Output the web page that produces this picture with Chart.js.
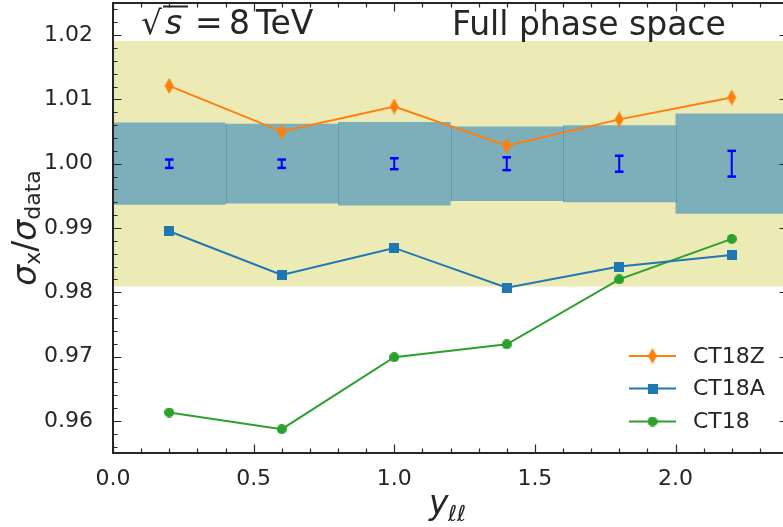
<!DOCTYPE html>
<html><head><meta charset="utf-8">
<script src="https://cdn.jsdelivr.net/npm/chart.js@4.4.1/dist/chart.umd.min.js"></script>
<style>html,body{margin:0;padding:0;background:#fff;overflow:hidden;} #wrap{position:absolute;left:0;top:0;width:790px;height:527px;}</style>
</head><body><div id="wrap"><canvas id="c" width="790" height="527"></canvas></div>
<script>
// ---- data ----
const yll = [0.2, 0.6, 1.0, 1.4, 1.8, 2.2];
const binEdges = [0.0, 0.4, 0.8, 1.2, 1.6, 2.0, 2.4];
const ct18z = [1.0121, 1.0050, 1.0089, 1.0028, 1.0069, 1.0103];
const ct18a = [0.9895, 0.9827, 0.9869, 0.9807, 0.9840, 0.9858];
const ct18  = [0.9613, 0.9587, 0.9699, 0.9719, 0.9820, 0.9883];
const dataRatio = [1.0, 1.0, 1.0, 1.0, 1.0, 1.0];
const dataErr = [0.00065, 0.00065, 0.00085, 0.0010, 0.00124, 0.0020];
const theoryUnc = [0.0064, 0.0062, 0.0065, 0.0058, 0.0060, 0.0078];
const bandLo = 0.9809, bandHi = 1.0191;
const xTicks = [0.0, 0.5, 1.0, 1.5, 2.0];
const yTicks = [0.96, 0.97, 0.98, 0.99, 1.00, 1.01, 1.02];
const xMinorStep = 0.1, yMinorStep = 0.002;
const seriesNames = ['CT18Z', 'CT18A', 'CT18'];

// ---- marker images ----
function mk(w, h, draw) { const c = document.createElement('canvas'); c.width = w; c.height = h; const g = c.getContext('2d'); draw(g); return c; }
const diamondImg = mk(10, 16, g => { g.fillStyle = '#ff7f0e'; g.beginPath(); g.moveTo(5, 0); g.lineTo(9.5, 8); g.lineTo(5, 16); g.lineTo(0.5, 8); g.closePath(); g.fill(); });
const squareImg = mk(10, 10, g => { g.fillStyle = '#1f77b4'; g.fillRect(0, 0, 10, 10); });
const circleImg = mk(10, 10, g => { g.fillStyle = '#2ca02c'; g.beginPath(); g.arc(5, 5, 5, 0, Math.PI * 2); g.fill(); });

const pts = (xs, ys) => xs.map((x, i) => ({x, y: ys[i]}));
const stepPts = (sign) => binEdges.map((e, i) => ({x: e, y: 1 + sign * theoryUnc[Math.min(i, theoryUnc.length - 1)]}));
const errPts = [];
yll.forEach((x, i) => { errPts.push({x, y: dataRatio[i] - dataErr[i]}); errPts.push({x, y: dataRatio[i] + dataErr[i]}); errPts.push({x, y: null}); });

const TXT = '#262626';

const decor = {
  id: 'decor',
  afterDatasetsDraw(chart) {
    const {ctx, chartArea: a, scales: {x, y}} = chart;
    ctx.save();
    // bin separators of the uncertainty boxes
    ctx.strokeStyle = 'rgba(90,150,175,0.8)'; ctx.lineWidth = 1;
    for (let i = 1; i < binEdges.length - 1; i++) {
      const u = Math.min(theoryUnc[i - 1], theoryUnc[i]);
      const px = Math.round(x.getPixelForValue(binEdges[i])) + 0.5;
      ctx.beginPath(); ctx.moveTo(px, y.getPixelForValue(1 + u)); ctx.lineTo(px, y.getPixelForValue(1 - u)); ctx.stroke();
    }
    // ticks (inward, all four sides)
    ctx.strokeStyle = TXT; ctx.lineWidth = 1.2;
    const nx = Math.round((x.max - x.min) / xMinorStep);
    for (let k = 0; k <= nx; k++) {
      const v = x.min + k * xMinorStep;
      const major = xTicks.some(t => Math.abs(t - v) < 1e-6);
      const L = major ? 8.5 : 4.5;
      const px = Math.round(x.getPixelForValue(v)) + 0.5;
      ctx.beginPath(); ctx.moveTo(px, a.bottom); ctx.lineTo(px, a.bottom - L);
      ctx.moveTo(px, a.top); ctx.lineTo(px, a.top + L); ctx.stroke();
    }
    const y0 = Math.ceil(y.min / yMinorStep - 1e-6) * yMinorStep;
    for (let v = y0; v <= y.max + 1e-9; v += yMinorStep) {
      const major = yTicks.some(t => Math.abs(t - v) < 1e-6);
      const L = major ? 8.5 : 4.5;
      const py = Math.round(y.getPixelForValue(v)) + 0.5;
      ctx.beginPath(); ctx.moveTo(a.left, py); ctx.lineTo(a.left + L, py);
      ctx.moveTo(a.right, py); ctx.lineTo(a.right - L, py); ctx.stroke();
    }
    // frame
    ctx.lineWidth = 2; ctx.strokeStyle = TXT;
    ctx.strokeRect(a.left, a.top, a.right - a.left, a.bottom - a.top);

    // annotations
    ctx.fillStyle = TXT; ctx.textBaseline = 'alphabetic'; ctx.textAlign = 'left';
    ctx.font = '33px "DejaVu Sans"';
    ctx.fillText('\u221A', 141, 34);
    ctx.font = 'italic 33px "DejaVu Sans"';
    ctx.fillText('s', 165, 34);
    ctx.fillRect(163, 5.5, 25, 2);
    ctx.font = '33px "DejaVu Sans"';
    ctx.fillText('=', 195, 34);
    ctx.fillText('8', 229, 34);
    ctx.fillText('TeV', 256, 34);
    ctx.fillText('Full phase space', 452, 35);

    // y axis title
    ctx.save();
    const parts = [
      {t: '\u03C3', f: 'italic 33px "DejaVu Sans"', dy: 0},
      {t: 'x', f: '22px "DejaVu Sans"', dy: 4},
      {t: '/', f: '33px "DejaVu Sans"', dy: 0},
      {t: '\u03C3', f: 'italic 33px "DejaVu Sans"', dy: 0},
      {t: 'data', f: '22px "DejaVu Sans"', dy: 4}
    ];
    let tot = 0; parts.forEach(p => { ctx.font = p.f; p.w = ctx.measureText(p.t).width; tot += p.w; });
    const cy = (a.top + a.bottom) / 2;
    ctx.translate(35.5, cy + tot / 2); ctx.rotate(-Math.PI / 2);
    let cx = 0; parts.forEach(p => { ctx.font = p.f; ctx.fillText(p.t, cx, p.dy); cx += p.w; });
    ctx.restore();

    // x axis title
    ctx.font = 'italic 33px "DejaVu Sans"'; ctx.fillText('y', 429, 514);
    ctx.font = 'italic 22px "DejaVu Sans"'; ctx.fillText('\u2113\u2113', 448, 521);

    // legend
    const rows = [{img: diamondImg, c: '#ff7f0e'}, {img: squareImg, c: '#1f77b4'}, {img: circleImg, c: '#2ca02c'}];
    const ys = [356, 388.5, 421.5];
    ctx.font = '22px "DejaVu Sans"'; ctx.textBaseline = 'middle';
    rows.forEach((r, i) => {
      ctx.strokeStyle = r.c; ctx.lineWidth = 2;
      ctx.beginPath(); ctx.moveTo(629, ys[i]); ctx.lineTo(676, ys[i]); ctx.stroke();
      ctx.drawImage(r.img, 652.5 - r.img.width / 2, ys[i] - r.img.height / 2);
      ctx.fillStyle = TXT; ctx.fillText(seriesNames[i], 693, ys[i] + 1);
    });
    ctx.restore();
  }
};

new Chart(document.getElementById('c'), {
  type: 'scatter',
  data: {
    datasets: [
      {label: seriesNames[0], data: pts(yll, ct18z), showLine: true, borderColor: '#ff7f0e', borderWidth: 2, pointStyle: diamondImg, pointRadius: 5, order: 1},
      {label: seriesNames[1], data: pts(yll, ct18a), showLine: true, borderColor: '#1f77b4', borderWidth: 2, pointStyle: squareImg, pointRadius: 5, order: 2},
      {label: seriesNames[2], data: pts(yll, ct18), showLine: true, borderColor: '#2ca02c', borderWidth: 2, pointStyle: circleImg, pointRadius: 5, order: 3},
      {label: 'data', data: errPts, showLine: true, spanGaps: false, borderColor: '#0000ff', borderWidth: 2, pointStyle: 'line', pointRadius: 4.3, pointBorderColor: '#0000ff', pointBorderWidth: 2.5, order: 4},
      {label: 'unc hi', data: stepPts(1), showLine: true, stepped: 'before', borderWidth: 0, pointRadius: 0, backgroundColor: 'rgb(125,175,186)', fill: '+1', order: 6},
      {label: 'unc lo', data: stepPts(-1), showLine: true, stepped: 'before', borderWidth: 0, pointRadius: 0, order: 7},
      {label: 'band', data: [{x: binEdges[0], y: bandHi}, {x: binEdges[binEdges.length - 1], y: bandHi}], showLine: true, borderWidth: 0, pointRadius: 0, backgroundColor: 'rgb(236,234,181)', fill: {value: bandLo}, order: 9}
    ]
  },
  options: {
    responsive: false, animation: false, devicePixelRatio: 1,
    layout: {autoPadding: false, padding: {top: 3, right: 2, left: 0, bottom: 0}},
    plugins: {legend: {display: false}, tooltip: {enabled: false}},
    scales: {
      x: {
        type: 'linear', min: binEdges[0], max: binEdges[binEdges.length - 1],
        grid: {display: false}, border: {display: false},
        afterBuildTicks: s => { s.ticks = xTicks.map(v => ({value: v})); },
        afterFit: s => { s.height = 74; s.paddingLeft = 0; s.paddingRight = 0; s.paddingTop = 0; s.paddingBottom = 0; },
        ticks: {color: TXT, font: {family: 'DejaVu Sans', size: 22}, padding: 5, maxRotation: 0, callback: v => Number(v).toFixed(1)}
      },
      y: {
        type: 'linear', min: 0.955, max: 1.025,
        grid: {display: false}, border: {display: false},
        afterBuildTicks: s => { s.ticks = yTicks.map(v => ({value: v})); },
        afterFit: s => { s.width = 113; s.paddingLeft = 0; s.paddingRight = 0; s.paddingTop = 0; s.paddingBottom = 0; },
        ticks: {color: TXT, font: {family: 'DejaVu Sans', size: 22}, padding: 12, callback: v => Number(v).toFixed(2)}
      }
    }
  },
  plugins: [decor]
});
</script>
</body></html>
